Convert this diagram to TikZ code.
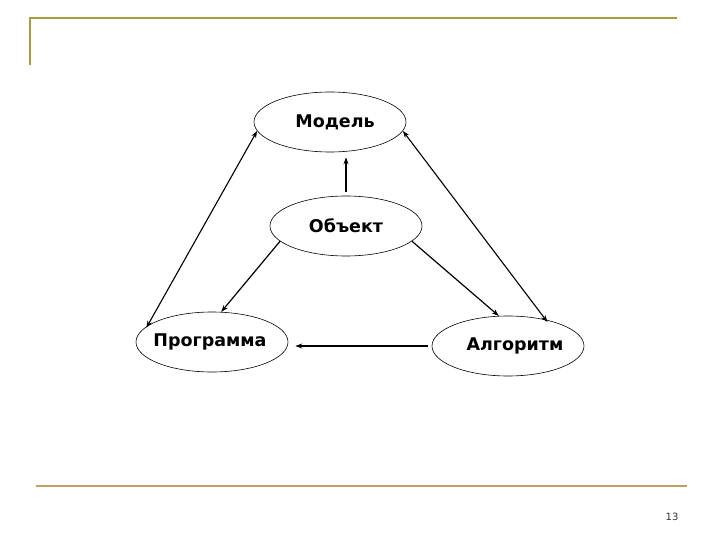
\documentclass[tikz,border=0pt]{standalone}
\usepackage{fontspec}
\setmainfont{DejaVu Sans}
\usetikzlibrary{shapes.geometric,arrows.meta}
\definecolor{topline}{RGB}{170,155,60}
\definecolor{botline}{RGB}{190,160,100}
\newcommand{\ovaltext}[2][0pt]{\makebox[0pt]{\hspace*{#1}#2}}
\begin{document}
\begin{tikzpicture}[x=1pt,y=-1pt,
  oval/.style={draw=black,line width=0.6pt,ellipse,inner sep=0pt,minimum width=152pt,minimum height=60pt,font=\fontsize{17.5}{20}\selectfont\bfseries},
  conn/.style={line width=1.2pt,-{Stealth[length=7pt,width=5pt]}},
  conn2/.style={line width=1.1pt,{Stealth[length=7pt,width=5pt]}-{Stealth[length=7pt,width=5pt]}}]
\useasboundingbox[fill=white] (0,0) rectangle (720,540);
% decorative lines
\coordinate (tl) at (30,18);
\coordinate (tr) at (677,18);
\coordinate (tb) at (30,65);
\coordinate (bl) at (36,486);
\coordinate (br) at (687,486);
\draw[topline,line width=1.6pt] (tb) -- (tl) -- (tr);
\draw[botline,line width=1.8pt] (bl) -- (br);
\node[font=\fontsize{10}{11}\selectfont,text=black!80] (pg) at (672,517) {13};
% nodes
\node[oval] (mod) at (330,122) {\ovaltext[10pt]{Модель}};
\node[oval] (obj) at (346,226) {\ovaltext{Объект}};
\node[oval] (prog) at (212,342) {\ovaltext[-4pt]{Программа}};
\node[oval] (alg) at (508,346) {\ovaltext[14pt]{Алгоритм}};
% connectors
\draw[conn,shorten <=4pt,shorten >=5pt] (obj.north) -- (obj.north |- mod.south);
\draw[conn2,shorten >=-2pt] (mod.187) -- (prog.166);
\draw[conn2,shorten >=-3pt] (mod.353) -- (alg.35);
\draw[conn] (obj.193) -- (prog.73);
\draw[conn] (obj.347) -- (alg.107);
\draw[conn,shorten <=4pt,shorten >=7pt] (alg.west) -- (alg.west -| prog.east);
\end{tikzpicture}
\end{document}
